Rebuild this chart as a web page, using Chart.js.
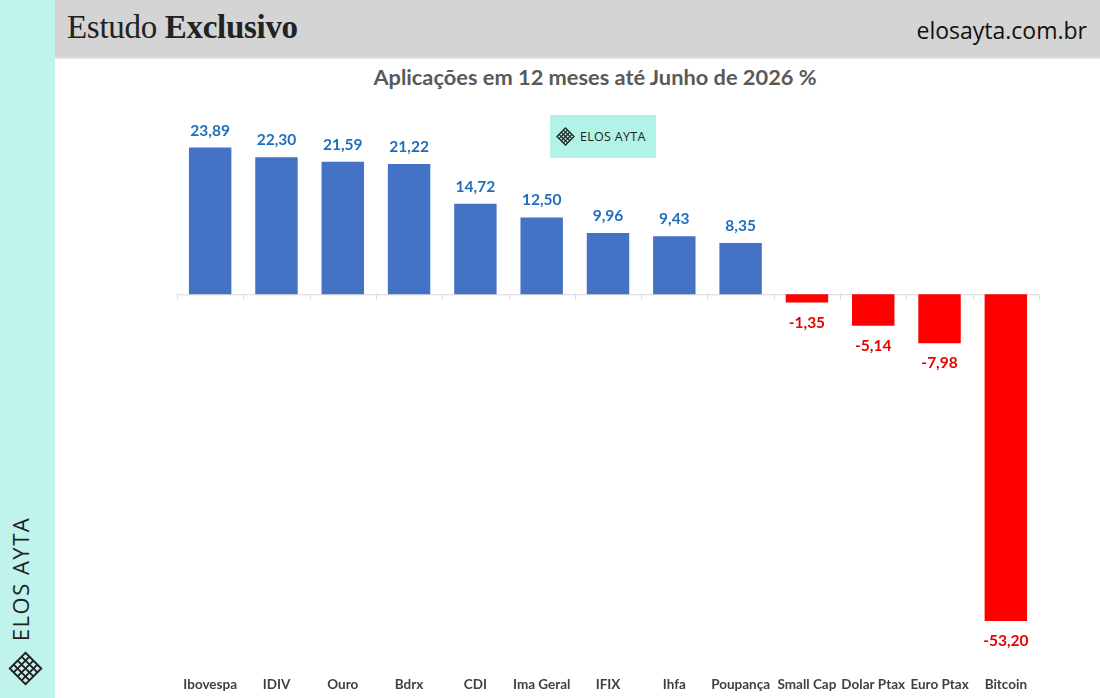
<!DOCTYPE html>
<html><head><meta charset="utf-8">
<script src="https://cdn.jsdelivr.net/npm/chart.js@4.4.1/dist/chart.umd.min.js"></script>
<style>
html,body{margin:0;padding:0;width:1100px;height:698px;overflow:hidden;background:#fff;font-family:Lato,"Open Sans",sans-serif;position:relative;}
#strip{position:absolute;left:0;top:0;width:55px;height:698px;background:#bff3eb;}
#head{position:absolute;left:55px;top:0;width:1045px;height:57px;background:#d4d4d4;border-bottom:2px solid #e4e4e4;}
#htitle{position:absolute;left:12px;top:9px;font-family:"Liberation Serif",serif;font-size:33px;color:#222;letter-spacing:-0.3px;}
#htitle b{font-weight:bold;}
#site{position:absolute;right:13px;top:14px;font-family:"Open Sans",sans-serif;font-size:23px;color:#111;}
#title{position:absolute;left:95px;width:1000px;top:63px;text-align:center;font-family:Lato,sans-serif;font-weight:bold;font-size:21.8px;color:#595959;white-space:nowrap;}
#logo{position:absolute;left:550px;top:115px;width:106px;height:43px;background:#b1f3e7;}
#logo span{position:absolute;left:30px;top:13px;font-family:"Open Sans",sans-serif;font-size:12.5px;color:#222;letter-spacing:0.3px;}
#logo svg{position:absolute;left:6px;top:12px;}
#vtext{position:absolute;left:-60px;top:564px;width:160px;text-align:center;transform:rotate(-90deg);font-family:"Open Sans",sans-serif;font-size:22px;color:#222;letter-spacing:1.5px;white-space:nowrap;}
#vicon{position:absolute;left:8px;top:651px;}
#wrap{position:absolute;left:130px;top:58px;width:958px;height:641px;}
</style></head>
<body>
<div id="strip"></div>
<div id="head"><div id="htitle">Estudo <b>Exclusivo</b></div><div id="site">elosayta.com.br</div></div>
<div id="title">Aplicações em 12 meses até Junho de 2026 %</div>
<div id="logo">
<svg width="19" height="19" viewBox="0 0 20 20"><g fill="none" stroke="#222" stroke-width="1.3"><path d="M10 1 L19 10 L10 19 L1 10 Z"/><path d="M5.5 5.5 L14.5 14.5 M14.5 5.5 L5.5 14.5 M7.75 3.25 L16.75 12.25 M3.25 7.75 L12.25 16.75 M12.25 3.25 L3.25 12.25 M16.75 7.75 L7.75 16.75"/></g></svg>
<span>ELOS AYTA</span></div>
<div id="vtext">ELOS AYTA</div>
<svg id="vicon" width="35" height="35" viewBox="0 0 20 20"><g fill="none" stroke="#222" stroke-width="1.1"><path d="M10 1 L19 10 L10 19 L1 10 Z"/><path d="M5.5 5.5 L14.5 14.5 M14.5 5.5 L5.5 14.5 M7.75 3.25 L16.75 12.25 M3.25 7.75 L12.25 16.75 M12.25 3.25 L3.25 12.25 M16.75 7.75 L7.75 16.75"/></g></svg>
<div id="wrap"><canvas id="c"></canvas></div>
<script>
const categories = ["Ibovespa","IDIV","Ouro","Bdrx","CDI","Ima Geral","IFIX","Ihfa","Poupança","Small Cap","Dolar Ptax","Euro Ptax","Bitcoin"];
const values = [23.89,22.30,21.59,21.22,14.72,12.50,9.96,9.43,8.35,-1.35,-5.14,-7.98,-53.20];
const yMin = -60, yMax = 30;

const posColor = "#4472C4", negColor = "#FF0000";
const posText = "#1F6EBE", negText = "#E80000";

const labelPlugin = {
  id: "vals",
  afterDatasetsDraw(chart) {
    const ctx = chart.ctx;
    const meta = chart.getDatasetMeta(0);
    ctx.save();
    ctx.font = "bold 15.5px Lato, sans-serif";
    ctx.textAlign = "center";
    ctx.textBaseline = "middle";
    meta.data.forEach((bar, i) => {
      const v = values[i];
      const txt = v.toFixed(2).replace(".", ",");
      if (v >= 0) { ctx.fillStyle = posText; ctx.fillText(txt, bar.x, bar.y - 17); }
      else { ctx.fillStyle = negText; ctx.fillText(txt, bar.x, bar.y + 20); }
    });
    ctx.restore();
  },
  beforeDatasetsDraw(chart) {
    const ctx = chart.ctx, xs = chart.scales.x, ys = chart.scales.y;
    const y0 = ys.getPixelForValue(0);
    ctx.save();
    ctx.strokeStyle = "#d9d9d9"; ctx.lineWidth = 1;
    ctx.beginPath();
    ctx.moveTo(xs.left, y0 + 0.5); ctx.lineTo(xs.right, y0 + 0.5);
    const n = categories.length;
    for (let i = 0; i <= n; i++) {
      const x = Math.round(xs.left + i * (xs.right - xs.left) / n) + 0.5;
      ctx.moveTo(x, y0); ctx.lineTo(x, y0 + 5);
    }
    ctx.stroke();
    ctx.restore();
  }
};

new Chart(document.getElementById("c"), {
  type: "bar",
  data: {
    labels: categories,
    datasets: [{
      data: values,
      backgroundColor: values.map(v => v >= 0 ? posColor : negColor),
      categoryPercentage: 1.0,
      barPercentage: 0.64,
      borderWidth: 0
    }]
  },
  options: {
    responsive: true,
    maintainAspectRatio: false,
    animation: false,
    layout: { padding: { top: 52, bottom: 0, left: 47, right: 49 } },
    plugins: { legend: { display: false }, tooltip: { enabled: false } },
    scales: {
      x: {
        grid: { display: false },
        border: { display: false },
        ticks: { color: "#404040", font: { family: "Lato, sans-serif", weight: "bold", size: 13.5 }, padding: 6, maxRotation: 0, autoSkip: false }
      },
      y: {
        display: false,
        min: yMin, max: yMax
      }
    }
  },
  plugins: [labelPlugin]
});
</script>
</body></html>
